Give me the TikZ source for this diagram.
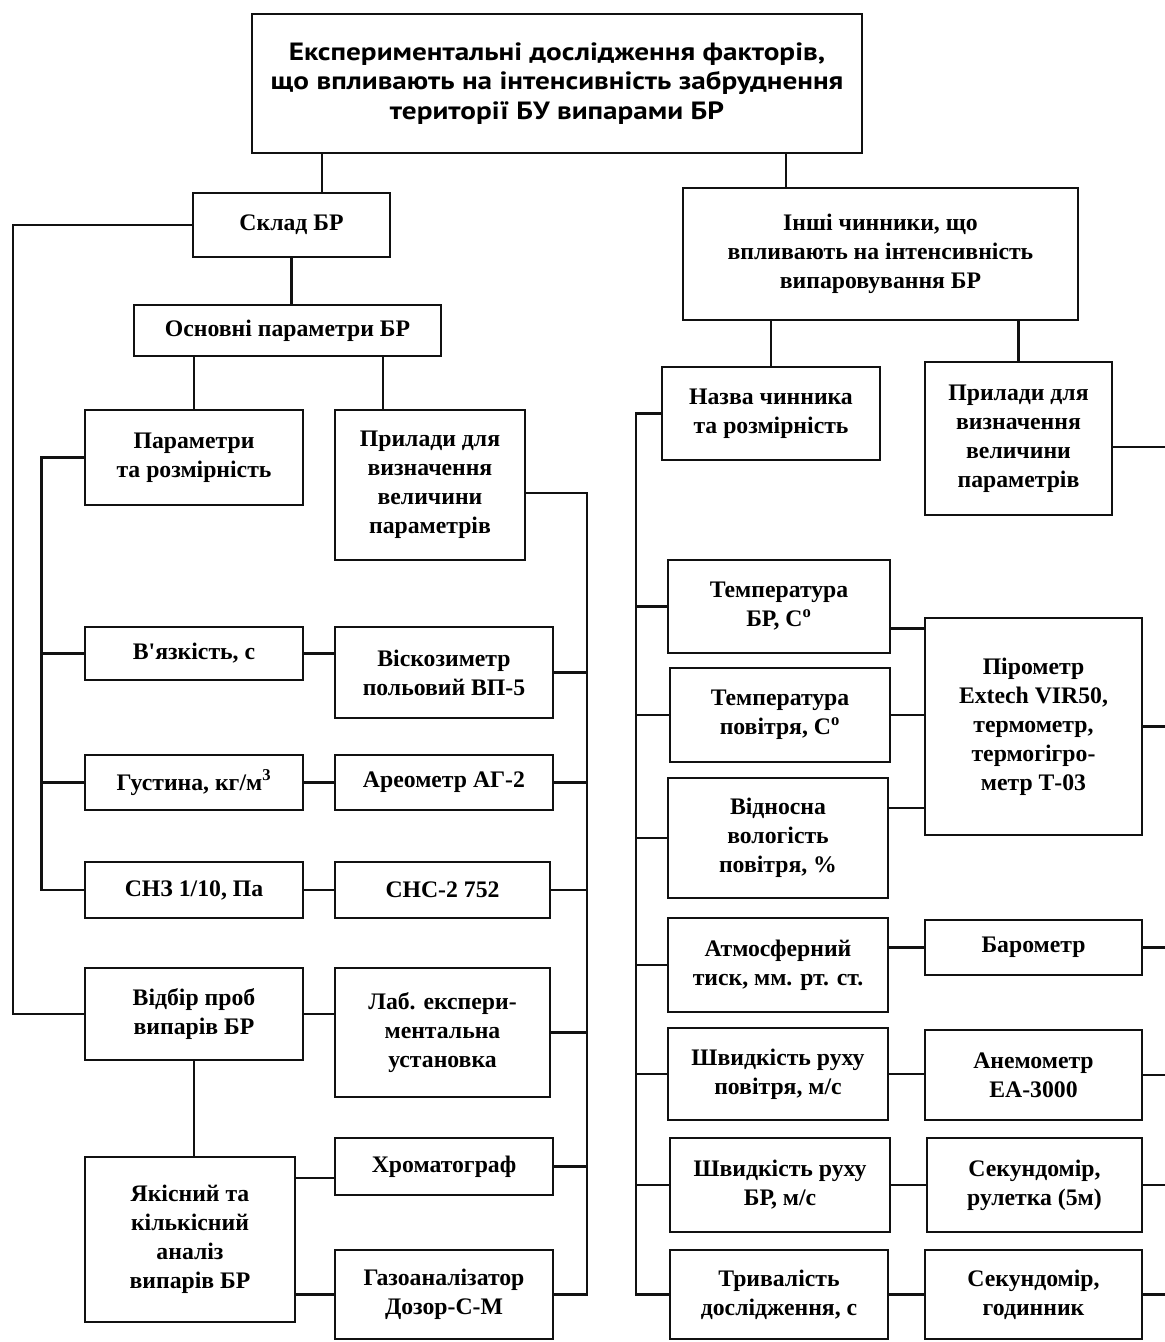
\documentclass[tikz,border=0pt]{standalone}
\usepackage{fontspec}
\setmainfont{Liberation Serif}
\newfontfamily\titlefont[FakeStretch=1.17]{PT Sans}

\begin{document}
\begin{tikzpicture}[
    box/.style={draw=borderColour, line width=1.5pt, align=center, inner sep=0pt,
        font=\fontsize{13.5}{16.5}\selectfont\bfseries},
    sz/.style 2 args={minimum width=#1cm, minimum height=#2cm},
    link/.style={draw=borderColour, line width=1.5pt}
]
    \definecolor{borderColour}{HTML}{111111}

    \useasboundingbox (0,0) rectangle (23.28,-26.84);

    % Buses
    \coordinate (outerBus) at (0.26,0);
    \coordinate (paramBus) at (0.83,0);
    \coordinate (toolBus) at (11.74,0);
    \coordinate (factorBus) at (12.72,0);
    \coordinate (rightEdge) at (23.5,0);

    % Top box
    \node[box, sz={12.2}{2.78}, font=\fontsize{14.2}{16.8}\selectfont\titlefont\bfseries] (title) at (11.14,-1.67)
        {Експериментальні дослідження факторів,\\що впливають на інтенсивність забруднення\\території БУ випарами БР};

    % Left part: composition of BR
    \node[box, sz={3.94}{1.28}] (sklad) at (5.83,-4.5) {Склад БР};
    \node[box, sz={6.14}{1.02}] (osnovni) at (5.75,-6.61) {Основні параметри БР};
    \node[box, sz={4.36}{1.9}] (params) at (3.88,-9.15) {Параметри\\та розмірність};
    \node[box, sz={3.8}{3.0}] (priladyL) at (8.6,-9.7) {Прилади для\\визначення\\величини\\параметрів};

    \node[box, sz={4.36}{1.06}] (vyazk) at (3.88,-13.07) {В\textquotesingle язкість, с};
    \node[box, sz={4.36}{1.82}] (viskoz) at (8.88,-13.45) {Віскозиметр\\польовий ВП-5};
    \node[box, sz={4.36}{1.1}] (gust) at (3.88,-15.65) {Густина, кг/м\textsuperscript{3}};
    \node[box, sz={4.36}{1.1}] (areom) at (8.88,-15.65) {Ареометр АГ-2};
    \node[box, sz={4.36}{1.12}] (snz) at (3.88,-17.8) {СНЗ 1/10, Па};
    \node[box, sz={4.3}{1.12}] (sns) at (8.85,-17.8) {СНС-2 752};

    \node[box, sz={4.36}{1.84}] (vidbir) at (3.88,-20.28) {Відбір проб\\випарів БР};
    \node[box, sz={4.3}{2.58}] (lab) at (8.85,-20.65) {Лаб. експери-\\ментальна\\установка};
    \node[box, sz={4.2}{3.3}] (yakisn) at (3.8,-24.79) {Якісний та\\кількісний\\аналіз\\випарів БР};
    \node[box, sz={4.36}{1.14}] (chrom) at (8.88,-23.33) {Хроматограф};
    \node[box, sz={4.36}{1.78}] (gaz) at (8.88,-25.89) {Газоаналізатор\\Дозор-С-М};

    % Right part: other factors
    \node[box, sz={7.9}{2.64}] (inshi) at (17.61,-5.08) {Інші чинники, що\\впливають на інтенсивність\\випаровування БР};
    \node[box, sz={4.36}{1.86}] (nazva) at (15.42,-8.27) {Назва чинника\\та розмірність};
    \node[box, sz={3.74}{3.06}] (priladyR) at (20.37,-8.77) {Прилади для\\визначення\\величини\\параметрів};

    \node[box, sz={4.44}{1.86}] (tempBR) at (15.58,-12.13) {Температура\\БР, С\textsuperscript{o}};
    \node[box, sz={4.4}{1.88}] (tempAir) at (15.6,-14.3) {Температура\\повітря, С\textsuperscript{o}};
    \node[box, sz={4.4}{2.4}] (humid) at (15.56,-16.76) {Відносна\\вологість\\повітря, \%};
    \node[box, sz={4.34}{4.34}] (pyrom) at (20.67,-14.53) {Пірометр\\Extech VIR50,\\термометр,\\термогігро-\\метр Т-03};

    \node[box, sz={4.4}{1.88}] (atmos) at (15.56,-19.3) {Атмосферний\\тиск, мм. рт. ст.};
    \node[box, sz={4.34}{1.1}] (barom) at (20.67,-18.95) {Барометр};
    \node[box, sz={4.4}{1.84}] (windSp) at (15.56,-21.48) {Швидкість руху\\повітря, м/с};
    \node[box, sz={4.34}{1.8}] (anemom) at (20.67,-21.5) {Анемометр\\ЕА-3000};
    \node[box, sz={4.4}{1.88}] (flowSp) at (15.6,-23.7) {Швидкість руху\\БР, м/с};
    \node[box, sz={4.3}{1.88}] (stopTape) at (20.69,-23.7) {Секундомір,\\рулетка (5м)};
    \node[box, sz={4.36}{1.78}] (durat) at (15.58,-25.89) {Тривалість\\дослідження, с};
    \node[box, sz={4.34}{1.78}] (stopClock) at (20.67,-25.89) {Секундомір,\\годинник};

    % Links from the top box
    \draw[link] ([xshift=0.61cm]sklad.north) -- ([xshift=0.61cm]sklad.north |- title.south);
    \draw[link] ([xshift=-1.89cm]inshi.north) -- ([xshift=-1.89cm]inshi.north |- title.south);

    % Left tree
    \draw[link] (sklad.south) -- (sklad.south |- osnovni.north);
    \draw[link] (params.north) -- (params.north |- osnovni.south);
    \draw[link] ([xshift=-0.94cm]priladyL.north) -- ([xshift=-0.94cm]priladyL.north |- osnovni.south);
    \draw[link] (sklad.west) -- (sklad.west -| outerBus) |- (vidbir.west);
    \draw[link] (params.west) -- (params.west -| paramBus) |- (snz.west);
    \foreach \n in {vyazk,gust}
        \draw[link] (\n.west) -- (\n.west -| paramBus);
    \draw[link] (vyazk.east) -- (vyazk.east -| viskoz.west);
    \draw[link] (gust.east) -- (areom.west);
    \draw[link] (snz.east) -- (sns.west);
    \draw[link] (vidbir.east) -- (vidbir.east -| lab.west);
    \draw[link] (vidbir.south) -- (vidbir.south |- yakisn.north);
    \draw[link] ([yshift=-0.23cm]chrom.west) -- ([yshift=-0.23cm]chrom.west -| yakisn.east);
    \draw[link] (gaz.west) -- (gaz.west -| yakisn.east);
    \draw[link] ([yshift=-0.16cm]priladyL.east) -| (toolBus |- gaz.east) -- (gaz.east);
    \foreach \n in {viskoz,areom,sns,lab,chrom}
        \draw[link] (\n.east) -- (\n.east -| toolBus);

    % Right tree
    \draw[link] (nazva.north) -- (nazva.north |- inshi.south);
    \draw[link] (priladyR.north) -- (priladyR.north |- inshi.south);
    \draw[link] (nazva.west) -- (nazva.west -| factorBus) |- (durat.west);
    \foreach \n in {tempBR,tempAir,humid,atmos,windSp,flowSp}
        \draw[link] (\n.west) -- (\n.west -| factorBus);
    \draw[link] ([yshift=-0.44cm]tempBR.east) -- ([yshift=-0.44cm]tempBR.east -| pyrom.west);
    \draw[link] (tempAir.east) -- (tempAir.east -| pyrom.west);
    \draw[link] ([yshift=0.6cm]humid.east) -- ([yshift=0.6cm]humid.east -| pyrom.west);
    \draw[link] (barom.west) -- (barom.west -| atmos.east);
    \draw[link] (windSp.east) -- (windSp.east -| anemom.west);
    \draw[link] (flowSp.east) -- (flowSp.east -| stopTape.west);
    \draw[link] (durat.east) -- (durat.east -| stopClock.west);

    % Exits to the right edge
    \draw[link] ([yshift=-0.17cm]priladyR.east) -- ([yshift=-0.17cm]priladyR.east -| rightEdge);
    \foreach \n in {pyrom,barom,anemom,stopTape,stopClock}
        \draw[link] (\n.east) -- (\n.east -| rightEdge);

\end{tikzpicture}
\end{document}
